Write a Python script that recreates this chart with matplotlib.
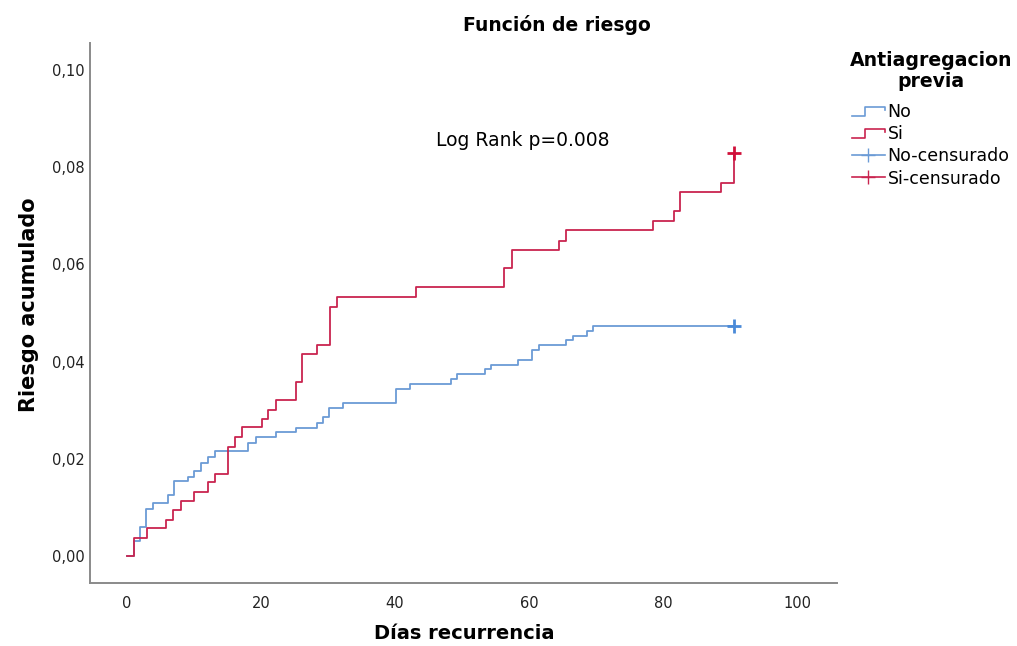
import matplotlib
matplotlib.use('Agg')
import matplotlib.pyplot as plt
from matplotlib.lines import Line2D
from matplotlib.legend_handler import HandlerBase
from matplotlib.ticker import FuncFormatter

# curva "No" (sin antiagregacion previa)
no_dias = [0, 1.0, 2.0, 2.9, 3.9, 6.1, 7.1, 9.1, 10.0, 11.1, 12.1, 13.2, 18.1, 19.3,
           22.2, 25.3, 28.3, 29.3, 30.2, 32.3, 40.2, 42.3, 48.3, 49.3, 53.4, 54.3,
           58.4, 60.5, 61.4, 65.5, 66.5, 68.6, 69.6, 90.6]
no_riesgo = [0, 0.0031, 0.0059, 0.0097, 0.0108, 0.0126, 0.0155, 0.0162, 0.0174, 0.0192,
             0.0204, 0.0215, 0.0233, 0.0244, 0.0254, 0.0264, 0.0274, 0.0285, 0.0305,
             0.0314, 0.0344, 0.0353, 0.0364, 0.0374, 0.0384, 0.0393, 0.0403, 0.0424,
             0.0434, 0.0444, 0.0453, 0.0463, 0.0474, 0.0474]

# curva "Si"
si_dias = [0, 1.0, 3.0, 5.9, 6.9, 8.1, 10.0, 12.1, 13.1, 15.1, 16.1, 17.1, 20.2, 21.1,
           22.2, 25.2, 26.1, 28.3, 30.3, 31.3, 43.2, 56.3, 57.4, 64.5, 65.5, 78.5,
           81.6, 82.5, 88.6, 90.6]
si_riesgo = [0, 0.0037, 0.0058, 0.0074, 0.0095, 0.0113, 0.0132, 0.0151, 0.0169, 0.0225,
             0.0245, 0.0265, 0.0282, 0.0300, 0.0320, 0.0357, 0.0416, 0.0434, 0.0513,
             0.0532, 0.0553, 0.0592, 0.0630, 0.0649, 0.0671, 0.0689, 0.0710, 0.0750,
             0.0768, 0.0829]

# censurados (ultimo punto de cada grupo)
no_cens = (90.6, 0.0474)
si_cens = (90.6, 0.0829)

azul = '#6b9bd6'
rojo = '#c9244f'
azul_cens = '#4a8ad8'
rojo_cens = '#d0103a'


class StepHandler(HandlerBase):
    def create_artists(self, legend, orig_handle, xdescent, ydescent, width, height, fontsize, trans):
        x0 = -xdescent
        y0 = -ydescent
        xs = [x0, x0 + 0.4 * width, x0 + 0.4 * width, x0 + width, x0 + width]
        ys = [y0 + 0.1 * height, y0 + 0.1 * height, y0 + 0.85 * height, y0 + 0.85 * height, y0 + 0.6 * height]
        line = Line2D(xs, ys, color=orig_handle.get_color(), lw=1.2)
        line.set_transform(trans)
        return [line]


fig = plt.figure(figsize=(10.17, 6.46), dpi=100)
ax = fig.add_axes([0.0885, 0.0975, 0.735, 0.836])

ax.step(no_dias, no_riesgo, where='post', color=azul, lw=1.3)
ax.step(si_dias, si_riesgo, where='post', color=rojo, lw=1.3)
ax.plot(*no_cens, marker='+', color=azul_cens, markersize=10, mew=2)
ax.plot(*si_cens, marker='+', color=rojo_cens, markersize=10, mew=2)

ax.set_xlim(-5.5, 106)
ax.set_ylim(-0.0056, 0.1056)
ax.set_xticks([0, 20, 40, 60, 80, 100])
ax.set_yticks([0, 0.02, 0.04, 0.06, 0.08, 0.10])
ax.yaxis.set_major_formatter(FuncFormatter(lambda v, p: ('%.2f' % v).replace('.', ',')))
ax.tick_params(length=0, labelsize=10.5, colors='#222222')
ax.tick_params(axis='x', pad=9)
ax.tick_params(axis='y', pad=4)

for s in ['top', 'right']:
    ax.spines[s].set_visible(False)
for s in ['left', 'bottom']:
    ax.spines[s].set_color('#8a8a8a')
    ax.spines[s].set_linewidth(1.4)

ax.set_xlabel('Días recurrencia', fontsize=14, fontweight='bold', labelpad=10)
ax.set_ylabel('Riesgo acumulado', fontsize=15, fontweight='bold')
ax.yaxis.set_label_coords(-0.068, 0.515)
fig.text(0.548, 0.962, 'Función de riesgo', ha='center', va='center', fontsize=13.5, fontweight='bold')

ax.text(59.1, 0.0856, 'Log Rank p=0.008', ha='center', va='center', fontsize=13.5)

# titulo de la leyenda aparte, para controlar el espacio
fig.text(0.9155, 1 - 71 / 646, 'Antiagregacion\nprevia', ha='center', va='center',
         fontsize=13.6, fontweight='bold', multialignment='center', linespacing=1.15)

handles = [
    Line2D([0], [0], color=azul),
    Line2D([0], [0], color=rojo),
    Line2D([0], [0], color=azul, marker='+', markersize=10, lw=1.2),
    Line2D([0], [0], color=rojo, marker='+', markersize=10, lw=1.2),
]
labels = ['No', 'Si', 'No-censurado', 'Si-censurado']
leg = fig.legend(handles, labels, loc='upper left',
                 bbox_to_anchor=(852 / 1017, 1 - 103 / 646), frameon=False, fontsize=12.5,
                 handlelength=1.9, handletextpad=0.15, borderpad=0, borderaxespad=0,
                 labelspacing=0.24, numpoints=1,
                 handler_map={handles[0]: StepHandler(), handles[1]: StepHandler()})

fig.savefig('out.png', dpi=100)
